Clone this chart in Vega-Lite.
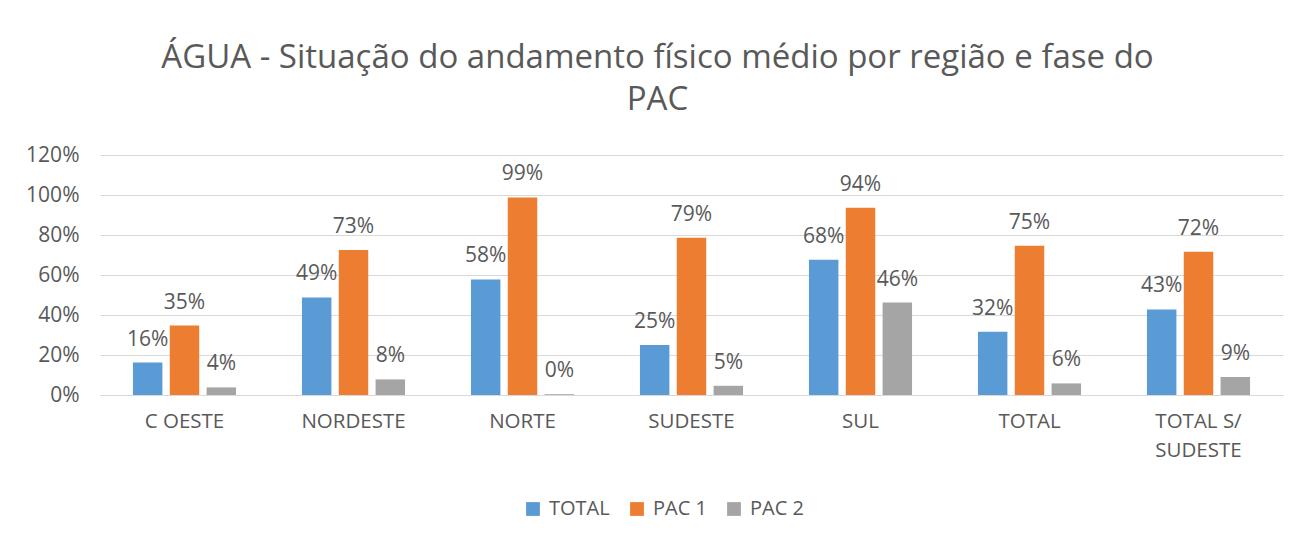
{
  "$schema": "https://vega.github.io/schema/vega-lite/v6.json",
  "width": 1183,
  "height": 240,
  "autosize": {"type": "none"},
  "padding": {"left": 100, "top": 155, "right": 18, "bottom": 146},
  "background": "white",
  "config": {
    "font": "Open Sans",
    "view": {"stroke": null}
  },
  "title": {
    "text": ["ÁGUA - Situação do andamento físico médio por região  e fase do", "PAC"],
    "fontSize": 33,
    "fontWeight": "normal",
    "color": "#595959",
    "lineHeight": 42,
    "anchor": "middle",
    "frame": "group",
    "dx": -34,
    "offset": 27
  },
  "data": {
    "values": [
      {"regiao": "C OESTE", "fase": "TOTAL", "valor": 0.162},
      {"regiao": "C OESTE", "fase": "PAC 1", "valor": 0.347},
      {"regiao": "C OESTE", "fase": "PAC 2", "valor": 0.038},
      {"regiao": "NORDESTE", "fase": "TOTAL", "valor": 0.488},
      {"regiao": "NORDESTE", "fase": "PAC 1", "valor": 0.725},
      {"regiao": "NORDESTE", "fase": "PAC 2", "valor": 0.078},
      {"regiao": "NORTE", "fase": "TOTAL", "valor": 0.578},
      {"regiao": "NORTE", "fase": "PAC 1", "valor": 0.988},
      {"regiao": "NORTE", "fase": "PAC 2", "valor": 0.004},
      {"regiao": "SUDESTE", "fase": "TOTAL", "valor": 0.25},
      {"regiao": "SUDESTE", "fase": "PAC 1", "valor": 0.786},
      {"regiao": "SUDESTE", "fase": "PAC 2", "valor": 0.046},
      {"regiao": "SUL", "fase": "TOTAL", "valor": 0.676},
      {"regiao": "SUL", "fase": "PAC 1", "valor": 0.936},
      {"regiao": "SUL", "fase": "PAC 2", "valor": 0.462},
      {"regiao": "TOTAL", "fase": "TOTAL", "valor": 0.316},
      {"regiao": "TOTAL", "fase": "PAC 1", "valor": 0.746},
      {"regiao": "TOTAL", "fase": "PAC 2", "valor": 0.058},
      {"regiao": "TOTAL S/ SUDESTE", "fase": "TOTAL", "valor": 0.428},
      {"regiao": "TOTAL S/ SUDESTE", "fase": "PAC 1", "valor": 0.716},
      {"regiao": "TOTAL S/ SUDESTE", "fase": "PAC 2", "valor": 0.09}
    ]
  },
  "encoding": {
    "x": {
      "field": "regiao",
      "type": "nominal",
      "sort": null,
      "scale": {"paddingInner": 0.39, "paddingOuter": 0.195},
      "axis": {
        "title": null,
        "labelAngle": 0,
        "domain": true,
        "domainColor": "#D9D9D9",
        "ticks": false,
        "labelPadding": 16,
        "labelFontSize": 20.5,
        "labelColor": "#595959",
        "labelLineHeight": 29,
        "labelBaseline": "top",
        "labelExpr": "datum.value == 'TOTAL S/ SUDESTE' ? ['TOTAL S/', 'SUDESTE'] : datum.label"
      }
    },
    "xOffset": {
      "field": "fase",
      "type": "nominal",
      "sort": ["TOTAL", "PAC 1", "PAC 2"],
      "scale": {"paddingInner": 0.2, "paddingOuter": 0}
    },
    "y": {
      "field": "valor",
      "type": "quantitative",
      "scale": {"domain": [0, 1.2], "nice": false},
      "axis": {
        "title": null,
        "format": ".0%",
        "values": [0, 0.2, 0.4, 0.6, 0.8, 1.0, 1.2],
        "grid": true,
        "gridColor": "#D9D9D9",
        "domain": false,
        "ticks": false,
        "labelPadding": 21,
        "labelFontSize": 21,
        "labelColor": "#595959"
      }
    }
  },
  "layer": [
    {
      "mark": {"type": "bar"},
      "encoding": {
        "color": {
          "field": "fase",
          "type": "nominal",
          "sort": ["TOTAL", "PAC 1", "PAC 2"],
          "scale": {"domain": ["TOTAL", "PAC 1", "PAC 2"], "range": ["#5B9BD5", "#ED7D31", "#A5A5A5"]},
          "legend": {
            "title": null,
            "orient": "none",
            "direction": "horizontal",
            "legendX": 423,
            "legendY": 344,
            "symbolType": "square",
            "symbolSize": 190,
            "symbolStrokeWidth": 0,
            "labelFontSize": 20,
            "labelColor": "#595959",
            "labelOffset": 6,
            "columnPadding": 17
          }
        }
      }
    },
    {
      "mark": {"type": "text", "dy": -17, "baseline": "alphabetic", "fontSize": 21, "color": "#595959"},
      "encoding": {
        "text": {"field": "valor", "type": "quantitative", "format": ".0%"}
      }
    }
  ]
}
